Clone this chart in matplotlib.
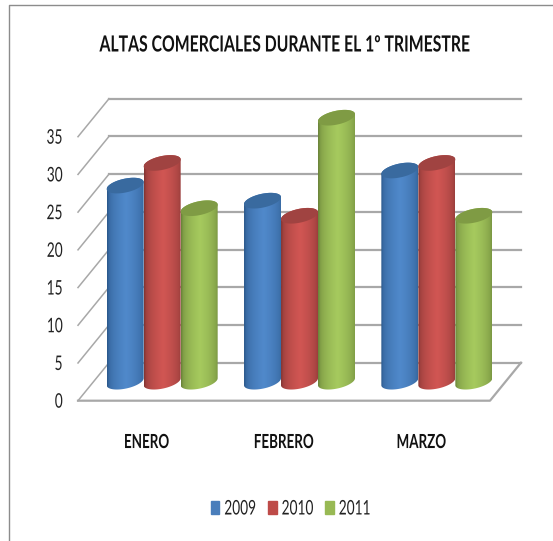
import numpy as np
import matplotlib
matplotlib.use('Agg')
import matplotlib.pyplot as plt
from matplotlib.patches import Polygon, Patch
from matplotlib.patheffects import AbstractPathEffect
from matplotlib.transforms import Affine2D

months = ['ENERO', 'FEBRERO', 'MARZO']
years = ['2009', '2010', '2011']
values_2009 = [26, 24, 28]
values_2010 = [29, 22, 29]
values_2011 = [23, 35, 22]
y_ticks = [0, 5, 10, 15, 20, 25, 30, 35]
title = 'ALTAS COMERCIALES DURANTE EL 1º TRIMESTRE'

W, H = 553, 541
PX_X = 412 / 3     # pixels per category
PX_Y = 264 / 35    # pixels per unit
X0, Y0 = 78, 400.7
DX, DY = 31 / PX_X, 38 / PX_Y   # oblique depth of the box
BAR = 37 / PX_X

plt.rcParams['font.family'] = ['Lato', 'DejaVu Sans']
GRID = '#a8a8a8'


class Squeeze(AbstractPathEffect):
    # no condensed font installed, so narrow the glyphs horizontally
    def __init__(self, sx, anchor=0.5):
        super().__init__()
        self.sx = sx
        self.anchor = anchor

    def draw_path(self, renderer, gc, tpath, affine, rgbFace=None):
        ext = tpath.get_extents()
        pivot = ext.x0 + self.anchor * ext.width
        squeeze = Affine2D().translate(-pivot, 0).scale(self.sx, 1).translate(pivot, 0)
        renderer.draw_path(gc, tpath, squeeze + affine, rgbFace)


def cylinder(ax, cx, value, edge, mid, cap):
    a = BAR / 2
    b = 7 / PX_Y
    s = 3.5 / PX_Y
    base = DY / 2
    top = value + base
    t = np.linspace(0, 2 * np.pi, 80)
    ex = cx + a * np.cos(t)
    ey = b * np.sin(t) + s * np.cos(t)
    # outline: lower half of base ellipse then upper half of top ellipse
    low = np.pi < t
    up = t <= np.pi
    outline = np.vstack([
        np.column_stack([ex[low], base + ey[low]]),
        np.column_stack([ex[up], top + ey[up]]),
    ])
    body = Polygon(outline, closed=True, fc='none', ec='none', transform=ax.transData, zorder=3)
    ax.add_patch(body)

    u = np.linspace(0, 1, 60)
    w = np.clip(1 - np.abs(u - 0.52) / 0.5, 0, 1) ** 0.4
    edge_c = np.array(matplotlib.colors.to_rgb(edge))
    mid_c = np.array(matplotlib.colors.to_rgb(mid))
    grad = edge_c[None, :] * (1 - w[:, None]) + mid_c[None, :] * w[:, None]
    im = ax.imshow(grad[None, :, :], extent=(cx - a, cx + a, base - 2, top + 2),
                   aspect='auto', zorder=3, interpolation='bilinear')
    im.set_clip_path(body)

    ax.add_patch(Polygon(np.column_stack([ex, top + ey]), closed=True, fc=cap, ec='none', zorder=3))


fig = plt.figure(figsize=(W / 100, H / 100), dpi=100)
x_max, y_max = 3.3, 42
ax = fig.add_axes([X0 / W, (H - Y0) / H, x_max * PX_X / W, y_max * PX_Y / H])

# back wall and side lines
for v in y_ticks:
    ax.plot([0, DX], [v, v + DY], color=GRID, lw=1.1, zorder=1, clip_on=False)
    ax.plot([DX, 3 + DX], [v + DY, v + DY], color=GRID, lw=1.6, zorder=1)
ax.plot([0, 3, 3 + DX], [0, 0, DY], color=GRID, lw=1.6, zorder=1, clip_on=False)

series = [values_2009, values_2010, values_2011]
edges = ['#2c5a8e', '#863634', '#6b8539']
mids = ['#5089cb', '#d15653', '#a6ca5e']
caps = ['#396a9f', '#a04341', '#7f9b44']

for i in range(len(months)):
    center = i + 0.5 + DX / 2
    for j, vals in enumerate(series):
        cylinder(ax, center + (j - 1) * BAR, vals[i], edges[j], mids[j], caps[j])

ax.set_xlim(0, x_max)
ax.set_ylim(0, y_max)
ax.patch.set_visible(False)
for sp in ax.spines.values():
    sp.set_visible(False)
ax.set_yticks(y_ticks)
ax.set_yticklabels([str(v) for v in y_ticks], fontsize=14.5, color='#222222')
ax.tick_params(axis='y', length=0, pad=10.8)
for lab in ax.get_yticklabels():
    lab.set_path_effects([Squeeze(0.68, anchor=1)])
ax.set_xticks([i + 0.5 for i in range(len(months))])
ax.set_xticklabels(months, fontsize=14, color='#111111', fontweight='bold')
ax.tick_params(axis='x', length=0, pad=24)
for lab in ax.get_xticklabels():
    lab.set_path_effects([Squeeze(0.69)])

fig.text(285 / W, 1 - 45 / H, title, ha='center', va='center', fontsize=16, color='#111111',
         fontweight='bold', path_effects=[Squeeze(0.71)])

handles = [Patch(color=m) for m in ['#4a7ebb', '#be4b48', '#98b954']]
leg = fig.legend(handles, years, loc='center', bbox_to_anchor=(294.5 / W, 1 - 509 / H), ncol=3,
                 frameon=False, fontsize=14.5, handlelength=0.42, handleheight=0.65,
                 handletextpad=-0.125, columnspacing=0.22, labelcolor='#222222')
for lab in leg.get_texts():
    lab.set_path_effects([Squeeze(0.68)])

# chart frame, cut off at the image edge
fig.add_artist(plt.Line2D([8.5 / W, 8.5 / W, 1], [0, 1 - 4.5 / H, 1 - 4.5 / H], color='#8c8c8c', lw=1.0))

fig.savefig('out.png', dpi=100)
